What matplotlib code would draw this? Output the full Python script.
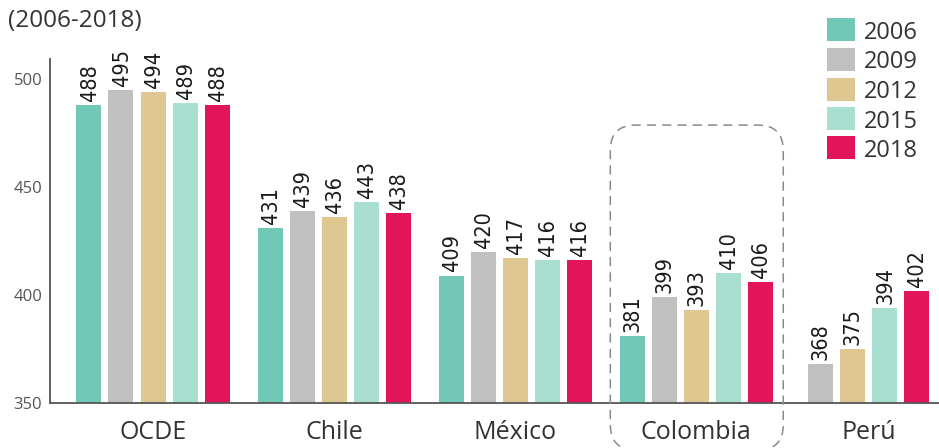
import matplotlib
matplotlib.use("Agg")
import matplotlib.pyplot as plt
from matplotlib import font_manager
from matplotlib.patches import FancyBboxPatch, Rectangle
import numpy as np

countries = ["OCDE", "Chile", "México", "Colombia", "Perú"]
years = ["2006", "2009", "2012", "2015", "2018"]
s2006 = [488, 431, 409, 381, np.nan]
s2009 = [495, 439, 420, 399, 368]
s2012 = [494, 436, 417, 393, 375]
s2015 = [489, 443, 416, 410, 394]
s2018 = [488, 438, 416, 406, 402]
series = [s2006, s2009, s2012, s2015, s2018]
colors = ["#72c8b6", "#c0c0c0", "#dfc791", "#a9dfd1", "#e2145a"]
yticks = [350, 400, 450, 500]

group_x = [0, 1, 2, 3, 3.95]
step = 0.177
width = 0.138

plt.rcParams["font.family"] = ["Open Sans", "DejaVu Sans"]

# narrow face for the value labels, whatever is installed
names = {f.name for f in font_manager.fontManager.ttflist}
if "Liberation Sans Narrow" in names:
    label_font = dict(family="Liberation Sans Narrow")
else:
    label_font = dict(family="DejaVu Sans", fontstretch="condensed")

fig = plt.figure(figsize=(9.39, 4.48), dpi=100)
ax = fig.add_axes([50 / 939, 45 / 448, 1 - 50 / 939, (403 - 59) / 448])

# bar positions: centre the bars that exist in each group
pos = np.full((len(years), len(countries)), np.nan)
for g, gx in enumerate(group_x):
    present = [k for k in range(len(years)) if not np.isnan(series[k][g])]
    n = len(present)
    for j, k in enumerate(present):
        pos[k, g] = gx + (j - (n - 1) / 2) * step

for k, (vals, col) in enumerate(zip(series, colors)):
    for g, v in enumerate(vals):
        if np.isnan(v):
            continue
        ax.bar(pos[k, g], v - 350, bottom=350, width=width, color=col, zorder=2)
        ax.annotate(f"{v:.0f}", (pos[k, g], v), xytext=(0.5, 3),
                    textcoords="offset points", rotation=90, ha="center",
                    va="bottom", fontsize=15.5, color="#1a1a1a", **label_font)

ax.set_xlim(-0.569, 4.34)
ax.set_ylim(350, 509.3)
ax.set_yticks(yticks)
ax.set_yticklabels([str(t) for t in yticks], fontsize=12, color="#555555")
ax.tick_params(axis="y", length=0, pad=5.5)
ax.set_xticks(group_x)
ax.set_xticklabels(countries, fontsize=18, color="#333333")
ax.tick_params(axis="x", length=0, pad=12)
for side in ["top", "right"]:
    ax.spines[side].set_visible(False)
for side in ["left", "bottom"]:
    ax.spines[side].set_color("#555555")
    ax.spines[side].set_linewidth(1.3)

# dashed rounded frame around Colombia
frame = FancyBboxPatch((2.525, 328.2), 0.955, 150.5,
                       boxstyle="round,pad=0,rounding_size=0.14",
                       mutation_aspect=84, fill=False, edgecolor="#8a8a8a",
                       linestyle=(0, (6, 4)), linewidth=1.1, clip_on=False,
                       zorder=3)
ax.add_patch(frame)

fig.text(8 / 939, 1 - 21 / 448, "(2006-2018)", fontsize=17.5, color="#333333",
         va="center", ha="left")

# legend, drawn by hand in figure pixels
W, H = 939, 448
for i, (yr, col) in enumerate(zip(years, colors)):
    yc = 30 + 29.5 * i
    fig.patches.append(Rectangle((827 / W, 1 - (yc + 11.5) / H), 28 / W, 23 / H,
                                 transform=fig.transFigure, facecolor=col,
                                 edgecolor="none", figure=fig))
    fig.text(864 / W, 1 - yc / H, yr, fontsize=17, color="#333333",
             va="center_baseline", ha="left")

fig.savefig("out.png", dpi=100)
